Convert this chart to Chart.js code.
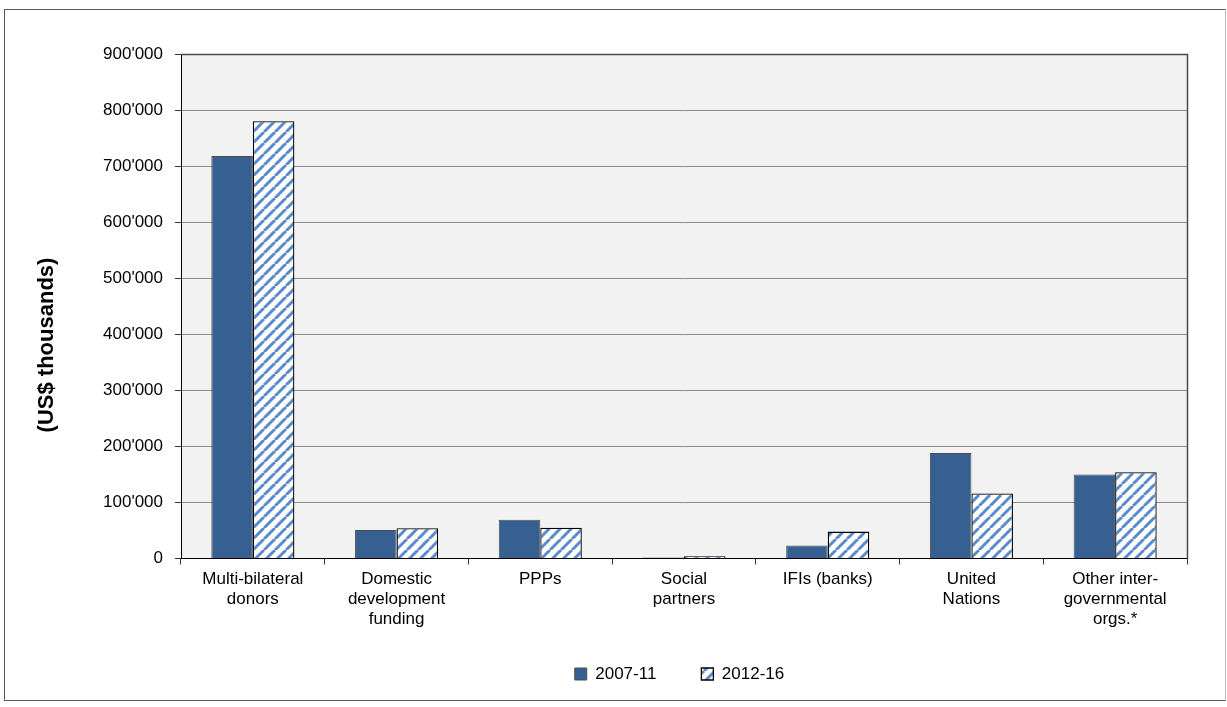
<!DOCTYPE html>
<html><head><meta charset="utf-8">
<script src="https://cdn.jsdelivr.net/npm/chart.js@4.4.0/dist/chart.umd.min.js"></script>
<style>
html,body{margin:0;padding:0;background:#fff;}
#frame{position:absolute;left:4px;top:9px;width:1222px;height:692px;border:1px solid #595959;border-right-color:#bdbdbd;box-sizing:border-box;}
#wrap{position:absolute;left:0;top:0;width:1227px;height:707px;}
</style></head><body>
<div id="frame"></div>
<div id="wrap"><canvas id="c" width="1227" height="707"></canvas></div>
<script>
const categories = [
  ['Multi-bilateral','donors'],
  ['Domestic','development','funding'],
  ['PPPs'],
  ['Social','partners'],
  ['IFIs (banks)'],
  ['United','Nations'],
  ['Other inter-','governmental','orgs.*']
];
const seriesNames = ['2007-11', '2012-16'];
const values2007_11 = [718000, 51000, 69000, 2000, 23000, 188000, 150000];
const values2012_16 = [780000, 54000, 55000, 4000, 48000, 116000, 154000];
const yMin = 0, yMax = 900000, yStep = 100000;
const yTitleText = '(US$ thousands)';

const FONT = '"Liberation Sans", Arial, sans-serif';
const FS = 17;

function fmt(v){
  if (v === 0) return '0';
  const s = String(Math.round(v));
  return s.replace(/\B(?=(\d{3})+(?!\d))/g, "'");
}

function hatch(){
  const s = 11;
  const c = document.createElement('canvas');
  c.width = s; c.height = s;
  const x = c.getContext('2d');
  x.fillStyle = '#ffffff'; x.fillRect(0,0,s,s);
  x.strokeStyle = '#5b8bc9'; x.lineWidth = 3;
  x.beginPath();
  for (const k of [-1,0,1]) { x.moveTo(k*s, s); x.lineTo(k*s + s, 0); }
  x.stroke();
  return x.createPattern(c, 'repeat');
}

const plotBg = {
  id: 'plotBg',
  beforeDraw(chart){
    const {ctx, chartArea:a} = chart;
    ctx.save(); ctx.fillStyle = '#f2f2f2';
    ctx.fillRect(a.left, a.top, a.right - a.left, a.bottom - a.top);
    ctx.restore();
  },
  beforeDatasetsDraw(chart){
    const {ctx, chartArea:a} = chart;
    ctx.save(); ctx.strokeStyle = '#4a4a4a'; ctx.lineWidth = 1.5;
    ctx.beginPath();
    ctx.moveTo(a.left, a.top + 0.5); ctx.lineTo(a.right + 0.5, a.top + 0.5);
    ctx.lineTo(a.right + 0.5, a.bottom);
    ctx.stroke(); ctx.restore();
  }
};

const yTitle = {
  id: 'yTitle',
  afterDraw(chart){
    const c = chart.ctx;
    c.save();
    c.translate(47, 345);
    c.rotate(-Math.PI/2);
    c.font = 'bold 22px ' + FONT;
    c.fillStyle = '#000';
    c.textAlign = 'center'; c.textBaseline = 'middle';
    c.fillText(yTitleText, 0, 0);
    c.restore();
  }
};

const LEG_SHIFT_X = 86;
const LEG_SHIFT_Y = -14;
const legendShift = {
  id: 'legendShift',
  afterLayout(chart){
    const l = chart.legend;
    if (l) {
      l.left += LEG_SHIFT_X; l.right += LEG_SHIFT_X;
      l.top += LEG_SHIFT_Y; l.bottom += LEG_SHIFT_Y;
    }
  }
};

new Chart(document.getElementById('c'), {
  type: 'bar',
  data: {
    labels: categories,
    datasets: [
      { label: seriesNames[0], data: values2007_11, backgroundColor: '#366092', borderColor: '#4d4d4d', borderWidth: 1, categoryPercentage: 0.578, barPercentage: 1 },
      { label: seriesNames[1], data: values2012_16, backgroundColor: hatch(), borderColor: '#000000', borderWidth: 1.3, categoryPercentage: 0.578, barPercentage: 1 }
    ]
  },
  options: {
    responsive: false, animation: false, devicePixelRatio: 1,
    layout: { padding: { left: 0, right: 40, top: 54, bottom: 0.5 } },
    plugins: {
      legend: {
        position: 'bottom',
        labels: { boxWidth: 12, boxHeight: 12, padding: 45, color: '#000', font: { family: FONT, size: FS } }
      },
      tooltip: { enabled: false }
    },
    scales: {
      x: {
        grid: { drawOnChartArea: false, tickLength: 6, color: '#333', offset: true },
        border: { color: '#000', width: 1 },
        ticks: { color: '#000', font: { family: FONT, size: FS, lineHeight: 20/FS }, padding: 5, maxRotation: 0, autoSkip: false },
        afterFit(s){ s.height = 76; }
      },
      y: {
        min: yMin, max: yMax,
        ticks: { stepSize: yStep, callback: fmt, color: '#000', font: { family: FONT, size: FS }, padding: 12 },
        grid: { color: '#8c8c8c', tickLength: 6, tickColor: '#333' },
        border: { color: '#000', width: 1 },
        afterFit(s){ s.width = 181; }
      }
    }
  },
  plugins: [plotBg, yTitle, legendShift]
});
</script>
</body></html>
